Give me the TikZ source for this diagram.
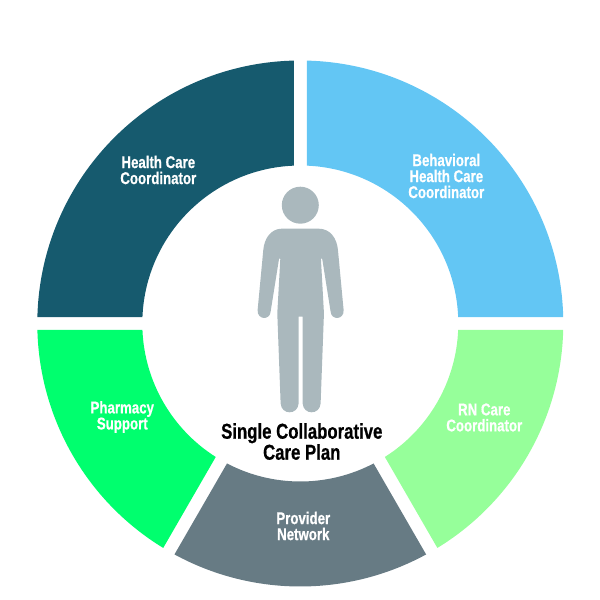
\documentclass[tikz,border=0pt]{standalone}
\usepackage{fontspec}
\setsansfont[FakeStretch=0.78, BoldFeatures={FakeBold=0.6}]{Liberation Sans}
\definecolor{CoordDark}{HTML}{165A6E}
\definecolor{BehavBlue}{HTML}{63C6F4}
\definecolor{NurseGreen}{HTML}{96FF9A}
\definecolor{ProviderGrey}{HTML}{677B84}
\definecolor{PharmGreen}{HTML}{00FF6E}
\definecolor{PersonGrey}{HTML}{AAB8BD}
\tikzset{
  % Text styles
  seglabel/.style={text=white, font=\sffamily\bfseries\fontsize{17}{16}\selectfont, align=center, inner sep=0pt},
  planlabel/.style={text=black, font=\sffamily\bfseries\fontsize{21.5}{21}\selectfont, align=center, inner sep=0pt}
}
\begin{document}
\begin{tikzpicture}[x=1pt, y=1pt]
  \useasboundingbox (-300.3,-276.5) rectangle (299.7,323.5);

  % Ring segments
  \def\outerR{263}
  \def\innerR{158}
  \def\halfgap{6.5}
  \foreach \segcolor/\angA/\angB in {BehavBlue/0/90, NurseGreen/-60/0, ProviderGrey/-120/-60, PharmGreen/-180/-120, CoordDark/90/180} {
    \pgfmathsetmacro{\outA}{\angA+asin(\halfgap/\outerR)}
    \pgfmathsetmacro{\outB}{\angB-asin(\halfgap/\outerR)}
    \pgfmathsetmacro{\inA}{\angA+asin(\halfgap/\innerR)}
    \pgfmathsetmacro{\inB}{\angB-asin(\halfgap/\innerR)}
    \fill[\segcolor] (\outA:\outerR) arc[start angle=\outA, end angle=\outB, radius=\outerR]
      -- (\inB:\innerR) arc[start angle=\inB, end angle=\inA, radius=\innerR] -- cycle;
  }

  % Person
  \fill[PersonGrey] (0,118.3) circle (18.5);
  \begin{scope}[x=0.3333pt, y=-0.3333pt, xshift=-100pt, yshift=153.5pt]
    \fill[PersonGrey] (245,176) -- (355,176) .. controls (390,176) and (410,205) .. (413,240)
      -- (430,420) .. controls (432,450) and (393,452) .. (391,425)
      -- (366,268) .. controls (365,262) and (362,262) .. (362,268)
      -- (371,430) -- (361,700) .. controls (359,736) and (309,736) .. (307,700)
      -- (307,440) -- (295,440) -- (295,700) .. controls (293,736) and (243,736) .. (241,700)
      -- (231,430) -- (240,268) .. controls (240,262) and (237,262) .. (236,268)
      -- (211,425) .. controls (209,452) and (170,450) .. (172,420)
      -- (189,240) .. controls (192,205) and (212,176) .. (245,176) -- cycle;
  \end{scope}

  % Labels
  \node[seglabel] (healthcoord) at (-142,153.5) {Health Care\\Coordinator};
  \node[seglabel] (behavcoord) at (146,147.5) {Behavioral\\Health Care\\Coordinator};
  \node[seglabel] (pharmacy) at (-178,-93.5) {Pharmacy\\Support};
  \node[seglabel] (rncoord) at (184,-94) {RN Care\\Coordinator};
  \node[seglabel] (provider) at (3,-202.5) {Provider\\Network};
  \node[planlabel] (plan) at (1.5,-118) {Single Collaborative\\Care Plan};
\end{tikzpicture}
\end{document}
